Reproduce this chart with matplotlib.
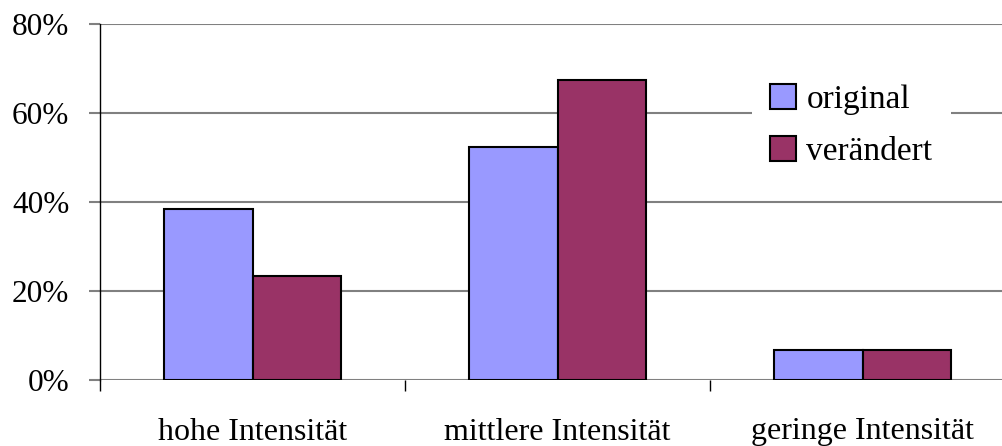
import numpy as np
import matplotlib
matplotlib.use("Agg")
import matplotlib.pyplot as plt
from matplotlib.ticker import PercentFormatter

# Data
categories = ["hohe Intensität", "mittlere Intensität", "geringe Intensität"]
original = [38.5, 52.3, 6.8]
veraendert = [23.3, 67.5, 6.8]
series_names = ["original", "verändert"]

plt.rcParams["font.family"] = ["Liberation Serif", "DejaVu Serif"]

fig = plt.figure(figsize=(10.02, 4.46), dpi=100)
ax = fig.add_axes([100 / 1002, 1 - 380 / 446, 902 / 1002, 356 / 446])

x = np.arange(len(categories))
w = 0.29
ax.bar(x - w, original, w, align="edge", color="#9999FF", edgecolor="black",
       linewidth=1.5, label=series_names[0], zorder=3)
ax.bar(x, veraendert, w, align="edge", color="#993366", edgecolor="black",
       linewidth=1.5, label=series_names[1], zorder=3)

ax.set_xlim(-0.5, -0.5 + 902 / 305)
ax.set_ylim(0, 80)
ax.set_yticks([0, 20, 40, 60, 80])
ax.yaxis.set_major_formatter(PercentFormatter(decimals=0))
ax.grid(axis="y", color="#808080", linewidth=1.5, zorder=0)
ax.set_axisbelow(True)

for s in ["top", "right", "bottom"]:
    ax.spines[s].set_visible(False)
ax.spines["left"].set_linewidth(1.0)
ax.spines["left"].set_bounds(0, 80)

# boundaries ticks and category labels
ax.set_xticks([-0.5, 0.5, 1.5])
ax.set_xticklabels([])
ax.tick_params(axis="x", which="major", length=8, width=1.0, color="black", direction="out")
ax.set_xticks(x, minor=True)
ax.set_xticklabels(categories, minor=True, fontsize=23)
ax.tick_params(axis="x", which="minor", length=0, pad=27)
ax.tick_params(axis="y", length=8, width=1.5, color="#808080", pad=14, labelsize=22.5)

leg = ax.legend(loc="upper left", bbox_to_anchor=(752 / 1002, 1 - 66 / 446),
                bbox_transform=fig.transFigure, fontsize=24, frameon=True,
                facecolor="white", edgecolor="none", framealpha=1, fancybox=False,
                handlelength=0.78, handleheight=0.78, handletextpad=0.3,
                labelspacing=0.62, borderpad=0.55, borderaxespad=0)
leg.set_zorder(5)

fig.savefig("out.png", dpi=100)
